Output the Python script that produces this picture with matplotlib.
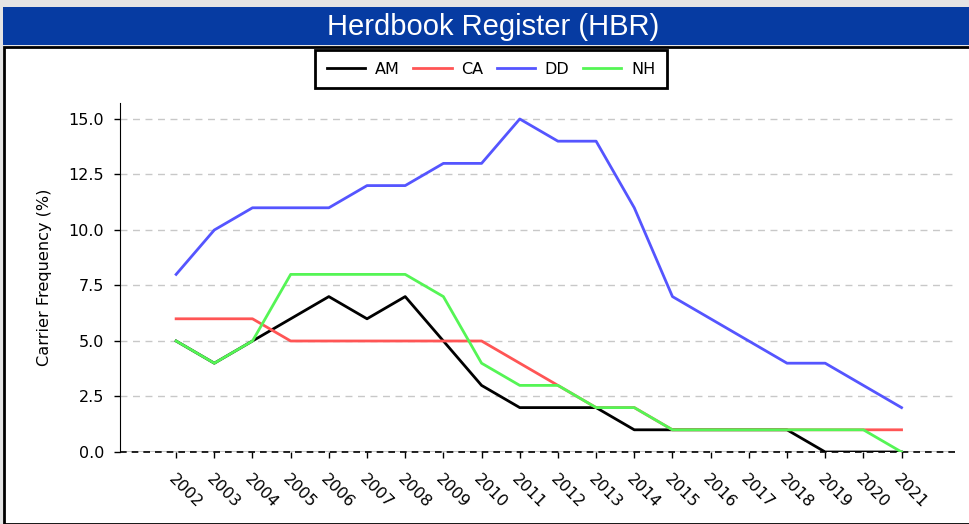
import matplotlib.pyplot as plt
from matplotlib.patches import Rectangle

years = [str(y) for y in range(2002, 2022)]
am = [5, 4, 5, 6, 7, 6, 7, 5, 3, 2, 2, 2, 1, 1, 1, 1, 1, 0, 0, 0]
ca = [6, 6, 6, 5, 5, 5, 5, 5, 5, 4, 3, 2, 2, 1, 1, 1, 1, 1, 1, 1]
dd = [8, 10, 11, 11, 11, 12, 12, 13, 13, 15, 14, 14, 11, 7, 6, 5, 4, 4, 3, 2]
nh = [5, 4, 5, 8, 8, 8, 8, 7, 4, 3, 3, 2, 2, 1, 1, 1, 1, 1, 1, 0]
yticks = [0, 2.5, 5, 7.5, 10, 12.5, 15]

W, H = 970, 524
fig = plt.figure(figsize=(W / 100, H / 100), dpi=100, facecolor="#e4e4e4")

# white panel and blue header bar
fig.patches.append(Rectangle((4 / W, 0), 1, (H - 47) / H, transform=fig.transFigure,
                             facecolor="white", edgecolor="black", linewidth=2, zorder=-10))
fig.patches.append(Rectangle((3 / W, (H - 45) / H), 1, 38 / H, transform=fig.transFigure,
                             facecolor="#063ba2", edgecolor="none", zorder=-10))
fig.text(493 / W, (H - 27) / H, "Herdbook Register (HBR)", color="white",
         fontsize=21, family="Liberation Sans", ha="center", va="center")

ax = fig.add_axes([120 / W, (H - 452) / H, 835 / W, 349 / H])
ax.set_facecolor("none")
x = list(range(len(years)))
ax.plot(x, am, color="black", lw=2, label="AM")
ax.plot(x, ca, color="#ff5555", lw=2, label="CA")
ax.plot(x, dd, color="#5555ff", lw=2, label="DD")
ax.plot(x, nh, color="#55f555", lw=2, label="NH")

ax.set_xlim(-1.47, 20.4)
ax.set_ylim(0, 15.72)
ax.set_yticks(yticks)
ax.set_yticklabels([f"{v:.1f}" for v in yticks])
ax.set_xticks(x)
ax.set_xticklabels(years, rotation=-45, ha="left", va="top", rotation_mode="anchor")
ax.tick_params(labelsize=11.5, length=4.3, width=1)
ax.tick_params(axis="x", pad=10)
ax.tick_params(axis="y", pad=7)
ax.grid(axis="y", color="#c8c8c8", linestyle=(0, (5, 4)), linewidth=1)
ax.set_axisbelow(True)
for s in ("top", "right", "bottom"):
    ax.spines[s].set_visible(False)
ax.axhline(0, color="#c8c8c8", lw=1.5, zorder=1)
ax.axhline(0, color="black", lw=1.2, ls=(0, (4, 3)), zorder=1.5, clip_on=False)
ax.set_ylabel("Carrier Frequency (%)", fontsize=11.6, labelpad=12)

leg = fig.legend(loc="center", bbox_to_anchor=(491 / W, (H - 69) / H), ncol=4,
                 prop={"family": "DejaVu Sans", "size": 11.5}, fancybox=False,
                 edgecolor="black", handlelength=2.4, columnspacing=0.85,
                 handletextpad=0.6, borderpad=0.75, framealpha=1)
leg.get_frame().set_linewidth(2)

fig.savefig("out.png", dpi=100, facecolor=fig.get_facecolor())
